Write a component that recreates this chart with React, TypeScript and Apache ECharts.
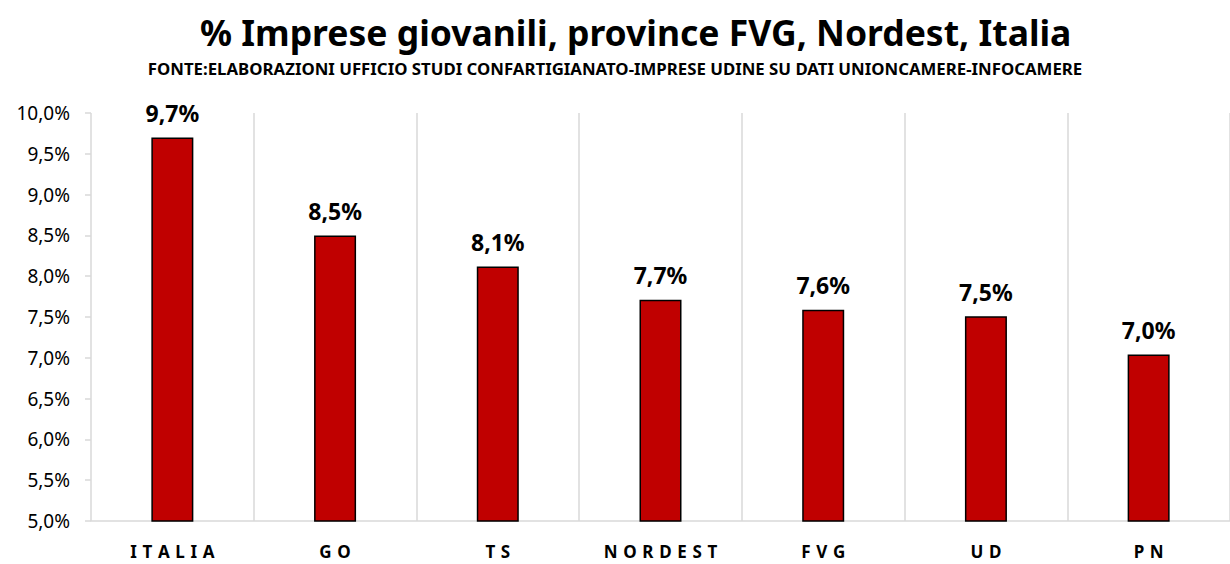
import React, { useEffect, useRef } from "react";
import * as echarts from "echarts";

const categories = ["ITALIA", "GO", "TS", "NORDEST", "FVG", "UD", "PN"];
const values = [9.7, 8.5, 8.12, 7.71, 7.59, 7.51, 7.04];
const yMin = 5.0;
const yMax = 10.0;
const yStep = 0.5;
const titleText = "% Imprese giovanili, province FVG, Nordest, Italia";
const subtitleText = "FONTE:ELABORAZIONI UFFICIO STUDI CONFARTIGIANATO-IMPRESE UDINE SU DATI UNIONCAMERE-INFOCAMERE";

const FONT = "'Noto Sans', 'Open Sans', sans-serif";

const pct = (v: number) => v.toFixed(1).replace(".", ",") + "%";

export default function App() {
  const ref = useRef<HTMLDivElement>(null);
  useEffect(() => {
    if (!ref.current) return;
    const chart = echarts.init(ref.current, null, { renderer: "svg" });
    chart.setOption({
      animation: false,
      backgroundColor: "#ffffff",
      title: [
        {
          text: titleText,
          left: 195,
          top: 9,
          textStyle: { fontFamily: FONT, fontWeight: "bold", fontSize: 35.5, color: "#000" },
        },
        {
          text: subtitleText,
          left: "center",
          top: 55,
          textStyle: { fontFamily: FONT, fontWeight: "bold", fontSize: 16.8, color: "#000" },
        },
      ],
      grid: { left: 91, right: -16, top: 113, bottom: 43, containLabel: false },
      xAxis: {
        type: "category",
        data: categories,
        axisLine: { show: true, lineStyle: { color: "#d9d9d9", width: 1.5 } },
        axisTick: { show: false },
        splitLine: { show: true, lineStyle: { color: "#d9d9d9", width: 1.5 } },
        axisLabel: {
          margin: 22,
          fontFamily: FONT,
          fontWeight: "bold",
          fontSize: 17,
          color: "#000",
          formatter: (s: string) => s.split("").join("\u2009\u2009"),
        },
      },
      yAxis: {
        type: "value",
        min: yMin,
        max: yMax,
        interval: yStep,
        axisLine: { show: false },
        axisTick: { show: true, length: 6, lineStyle: { color: "#d9d9d9", width: 1.5 } },
        splitLine: { show: false },
        axisLabel: {
          margin: 21,
          fontFamily: FONT,
          fontSize: 19,
          color: "#000",
          formatter: (v: number) => pct(v),
        },
      },
      series: [
        {
          type: "bar",
          data: values,
          barWidth: 42,
          itemStyle: { color: "#c00000", borderColor: "#000", borderWidth: 1.5 },
          label: {
            show: true,
            position: "top",
            distance: 13,
            fontFamily: FONT,
            fontWeight: "bold",
            fontSize: 23,
            color: "#000",
            formatter: (p: any) => pct(p.value),
          },
        },
      ],
    });
    return () => chart.dispose();
  }, []);
  return <div ref={ref} style={{ width: 1230, height: 564, position: "absolute", left: 0, top: 0 }} />;
}
